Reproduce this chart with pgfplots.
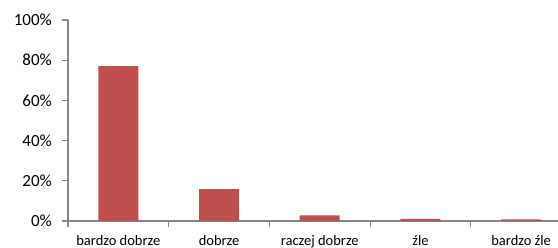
\documentclass[border=0pt]{standalone}
\usepackage{fontspec}
\setmainfont{Carlito}
\usepackage{pgfplots}
\pgfplotsset{compat=1.18}
\definecolor{barred}{HTML}{C0504D}
\definecolor{axgray}{HTML}{868686}
\begin{document}
\begin{tikzpicture}
\begin{axis}[
  at={(0,0)}, anchor=south west,
  scale only axis,
  width=490bp, height=201bp,
  xmin=-0.5, xmax=4.366,
  ymin=0, ymax=100,
  axis x line*=bottom, axis y line*=left,
  axis line style={axgray, line width=1.1bp},
  ytick={0,20,...,100},
  yticklabel={\pgfmathprintnumber{\tick}\%},
  /pgf/number format/assume math mode=true,
  tick align=outside,
  major tick length=6bp,
  ytick style={axgray, line width=1.1bp},
  y tick label style={font=\fontsize{17bp}{17bp}\selectfont, inner sep=0pt, anchor=east, xshift=-10bp},
  xtick={0,1,2,3,4},
  xticklabels={bardzo dobrze, dobrze, raczej dobrze, źle, bardzo źle},
  major x tick style={draw=none},
  minor xtick={-0.5,0.5,1.5,2.5,3.5},
  minor tick length=5.5bp,
  minor x tick style={axgray, line width=1.1bp},
  x tick label style={font=\fontsize{14.5bp}{14.5bp}\selectfont, inner sep=0pt, anchor=base, yshift=-18bp},
  clip=false,
]
\addplot[ybar, bar width=40bp, fill=barred, draw=none] coordinates {(0,77) (1,15.8) (2,2.8) (3,1.0) (4,0.8)};
\end{axis}
\pgfresetboundingbox
\path (-68bp,-27bp) rectangle (490bp,221bp);
\end{tikzpicture}
\end{document}
